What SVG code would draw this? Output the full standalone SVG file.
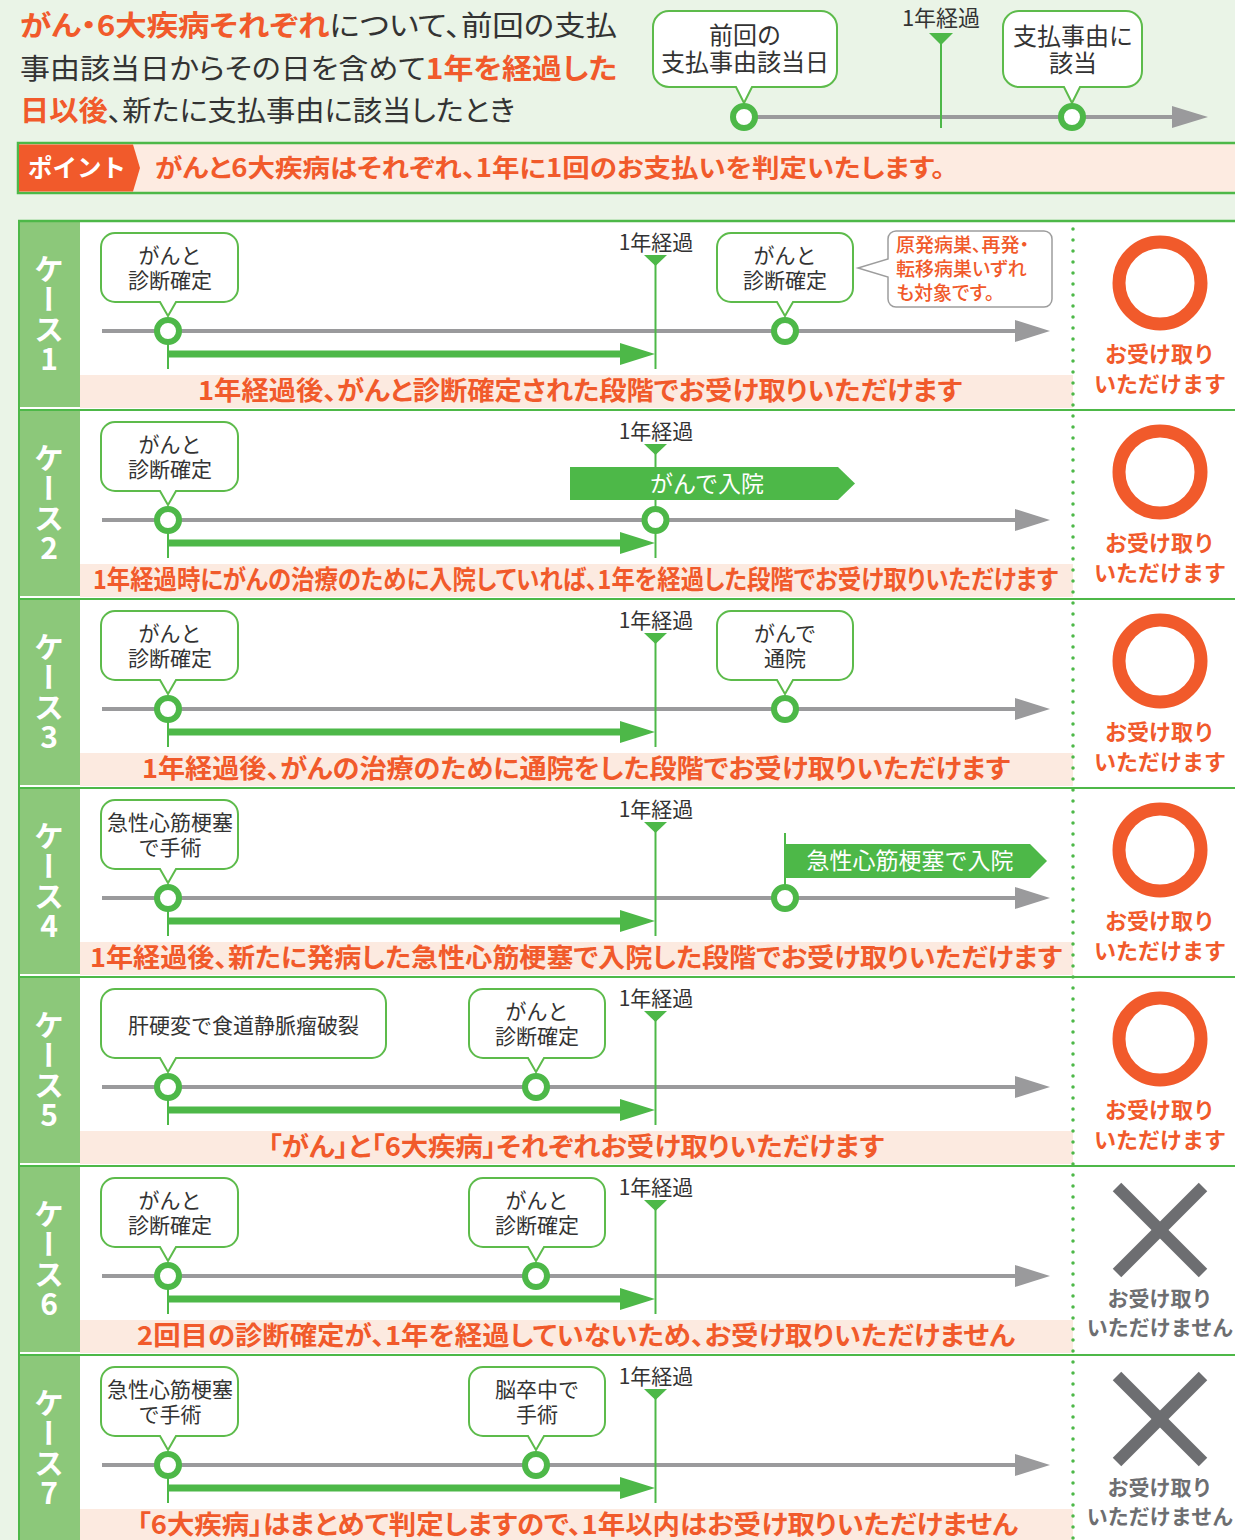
<svg xmlns="http://www.w3.org/2000/svg" xmlns:xlink="http://www.w3.org/1999/xlink" width="1235" height="1540" viewBox="0 0 1235 1540">
<style>
text{font-family:"Noto Sans CJK JP","Noto Sans",sans-serif;}
.p{font-feature-settings:"palt" 1;}
.dk{fill:#333333;}
.or{fill:#F15A2B;}
.bub{fill:#ffffff;stroke:#5DBB4B;stroke-width:2;}
.bt{font-size:21px;fill:#333333;text-anchor:middle;}
.yr{font-size:21px;fill:#333333;text-anchor:middle;}
.node{fill:#ffffff;stroke:#4DB848;stroke-width:6;}
.gray{stroke:#9A9A9C;stroke-width:4;fill:none;}
.gl{stroke:#4DB848;stroke-width:2;fill:none;}
.ga{stroke:#4DB848;stroke-width:7;fill:none;}
.sum{font-size:26px;font-weight:bold;fill:#F15A2B;text-anchor:middle;font-feature-settings:"palt" 1;}
.band{fill:#FCEAE0;}
.lab{font-size:30px;font-weight:bold;fill:#ffffff;writing-mode:vertical-rl;text-orientation:upright;}
.ok{font-size:22px;font-weight:bold;fill:#F15A2B;text-anchor:middle;}
.ng{font-size:21px;font-weight:bold;fill:#6D6E71;text-anchor:middle;}
.ring{fill:none;stroke:#F15A2B;stroke-width:13;}
.x{stroke:#6D6E71;stroke-width:12;}
.ban{fill:#4DB848;}
.bant{font-size:23px;fill:#ffffff;text-anchor:middle;}
</style>
<defs>
<path id="bubA" class="bub" d="M115,12 H224 A14,14 0 0 1 238,26 V67 A14,14 0 0 1 224,81 H176 L168,95 L160,81 H115 A14,14 0 0 1 101,67 V26 A14,14 0 0 1 115,12 Z"/>
<path id="bubB" class="bub" d="M483,12 H591 A14,14 0 0 1 605,26 V67 A14,14 0 0 1 591,81 H544 L536,95 L528,81 H483 A14,14 0 0 1 469,67 V26 A14,14 0 0 1 483,12 Z"/>
<path id="bubC" class="bub" d="M731,12 H839 A14,14 0 0 1 853,26 V67 A14,14 0 0 1 839,81 H793 L785,95 L777,81 H731 A14,14 0 0 1 717,67 V26 A14,14 0 0 1 731,12 Z"/>
<path id="bubW" class="bub" d="M115,12 H372 A14,14 0 0 1 386,26 V67 A14,14 0 0 1 372,81 H176 L168,95 L160,81 H115 A14,14 0 0 1 101,67 V26 A14,14 0 0 1 115,12 Z"/>
<g id="caseBase">
<rect x="80" y="154" width="993" height="33" class="band"/>
<polygon points="644,34 667,34 655.5,45" fill="#4DB848"/>
<text x="656" y="29" class="yr">1年経過</text>
</g>
<g id="tline">
<line x1="102" y1="110" x2="1018" y2="110" class="gray"/>
<polygon points="1015,99 1050,110 1015,121" fill="#9A9A9C"/>
<line x1="655.5" y1="41" x2="655.5" y2="148" class="gl"/>
<line x1="168" y1="110" x2="168" y2="148" class="gl"/>
<line x1="168" y1="133" x2="622" y2="133" class="ga"/>
<polygon points="620,122 655,133 620,144" fill="#4DB848"/>
</g>
<g id="okMark">
<circle cx="1160" cy="62" r="41" class="ring"/>
<text x="1160" y="141" class="ok">お受け取り<tspan x="1160" dy="30">いただけます</tspan></text>
</g>
<g id="ngMark">
<line x1="1117" y1="21" x2="1203" y2="107" class="x"/>
<line x1="1203" y1="21" x2="1117" y2="107" class="x"/>
<text x="1160" y="140" class="ng">お受け取り<tspan x="1160" dy="29">いただけません</tspan></text>
</g>
</defs>

<rect x="0" y="0" width="1235" height="1540" fill="#EAF4E7"/>

<g id="header-text">
<text x="20" y="36" font-size="28.5" class="dk p" textLength="597" lengthAdjust="spacingAndGlyphs"><tspan class="or" font-weight="bold">がん・6大疾病それぞれ</tspan>について、前回の支払</text>
<text x="20" y="79" font-size="28.5" class="dk p" textLength="597" lengthAdjust="spacingAndGlyphs">事由該当日からその日を含めて<tspan class="or" font-weight="bold">1年を経過した</tspan></text>
<text x="20" y="121" font-size="28.5" class="dk p" textLength="495" lengthAdjust="spacingAndGlyphs"><tspan class="or" font-weight="bold">日以後</tspan>、新たに支払事由に該当したとき</text>
</g>

<g id="header-connectors">
<line x1="744" y1="117" x2="1176" y2="117" class="gray"/>
<polygon points="1172,106 1208,117 1172,128" fill="#9A9A9C"/>
<line x1="941" y1="44" x2="941" y2="128" class="gl"/>
</g>
<g id="header-year">
<polygon points="929,33 953,33 941,45" fill="#4DB848"/>
<text x="941" y="26" font-size="22" class="dk" text-anchor="middle">1年経過</text>
</g>
<g id="header-bubble1">
<path class="bub" d="M669,11 H821 A16,16 0 0 1 837,27 V71 A16,16 0 0 1 821,87 H752 L744,103 L736,87 H669 A16,16 0 0 1 653,71 V27 A16,16 0 0 1 669,11 Z"/>
<text x="745" y="44" font-size="24" class="dk" text-anchor="middle">前回の<tspan x="745" dy="27">支払事由該当日</tspan></text>
<circle cx="744" cy="117" r="11" class="node"/>
</g>
<g id="header-bubble2">
<path class="bub" d="M1019,11 H1126 A16,16 0 0 1 1142,27 V71 A16,16 0 0 1 1126,87 H1080 L1072,103 L1064,87 H1019 A16,16 0 0 1 1003,71 V27 A16,16 0 0 1 1019,11 Z"/>
<text x="1073" y="45" font-size="24" class="dk" text-anchor="middle">支払事由に<tspan x="1073" dy="27">該当</tspan></text>
<circle cx="1072" cy="117" r="11" class="node"/>
</g>

<g id="point-bar">
<rect x="18" y="143" width="1230" height="50" fill="#FDEBE1" stroke="#4DB848" stroke-width="2.5"/>
<polygon points="19,144.5 133,144.5 140,168 133,191.5 19,191.5" fill="#F15A2B"/>
<text x="77" y="177" font-size="24.5" font-weight="bold" fill="#ffffff" text-anchor="middle">ポイント</text>
<text x="155" y="177" font-size="25" font-weight="bold" class="or p" textLength="790" lengthAdjust="spacingAndGlyphs">がんと6大疾病はそれぞれ、1年に1回のお支払いを判定いたします。</text>
</g>

<g id="frame">
<rect x="80" y="221" width="1160" height="1330" fill="#ffffff"/>
<rect x="19" y="221" width="61" height="1330" fill="#8CC87A"/>
<line x1="19" y1="221" x2="19" y2="1540" stroke="#4DB848" stroke-width="2"/>
<line x1="18" y1="221" x2="1235" y2="221" stroke="#4DB848" stroke-width="2.5"/>
<g stroke="#4DB848" stroke-width="2">
<line x1="19" y1="410" x2="1235" y2="410"/>
<line x1="19" y1="599" x2="1235" y2="599"/>
<line x1="19" y1="788" x2="1235" y2="788"/>
<line x1="19" y1="977" x2="1235" y2="977"/>
<line x1="19" y1="1166" x2="1235" y2="1166"/>
<line x1="19" y1="1355" x2="1235" y2="1355"/>
</g>
<g stroke="#ffffff" stroke-width="2">
<line x1="20" y1="408" x2="80" y2="408"/>
<line x1="20" y1="597" x2="80" y2="597"/>
<line x1="20" y1="786" x2="80" y2="786"/>
<line x1="20" y1="975" x2="80" y2="975"/>
<line x1="20" y1="1164" x2="80" y2="1164"/>
<line x1="20" y1="1353" x2="80" y2="1353"/>
</g>
</g>

<g id="case-bases">
<use xlink:href="#caseBase" transform="translate(0,221)"/>
<use xlink:href="#caseBase" transform="translate(0,410)"/>
<use xlink:href="#caseBase" transform="translate(0,599)"/>
<use xlink:href="#caseBase" transform="translate(0,788)"/>
<use xlink:href="#caseBase" transform="translate(0,977)"/>
<use xlink:href="#caseBase" transform="translate(0,1166)"/>
<use xlink:href="#caseBase" transform="translate(0,1355)"/>
<line x1="1073" y1="229" x2="1073" y2="1540" stroke="#4DB848" stroke-width="3.5" stroke-linecap="round" stroke-dasharray="0 11"/>
</g>

<g id="connectors">
<use xlink:href="#tline" transform="translate(0,221)"/>
<use xlink:href="#tline" transform="translate(0,410)"/>
<use xlink:href="#tline" transform="translate(0,599)"/>
<use xlink:href="#tline" transform="translate(0,788)"/>
<use xlink:href="#tline" transform="translate(0,977)"/>
<use xlink:href="#tline" transform="translate(0,1166)"/>
<use xlink:href="#tline" transform="translate(0,1355)"/>
</g>

<g id="case1" transform="translate(0,221)">
<g id="case1-label"><text x="49" y="33" class="lab">ケース1</text></g>
<g id="case1-n1"><use xlink:href="#bubA"/><text x="170" y="42" class="bt">がんと<tspan x="170" dy="25">診断確定</tspan></text><circle cx="168" cy="110" r="11" class="node"/></g>
<g id="case1-n2"><use xlink:href="#bubC"/><text x="785" y="42" class="bt">がんと<tspan x="785" dy="25">診断確定</tspan></text><circle cx="785" cy="110" r="11" class="node"/></g>
<g id="case1-note">
<path d="M896,10 H1044 A8,8 0 0 1 1052,18 V78 A8,8 0 0 1 1044,86 H896 A8,8 0 0 1 888,78 V56 L858,47 L888,38 V18 A8,8 0 0 1 896,10 Z" fill="#ffffff" stroke="#9D9D9D" stroke-width="1.5"/>
<text x="896" y="31" font-size="19" font-weight="500" class="or p">原発病巣、再発・<tspan x="896" dy="24">転移病巣いずれ</tspan><tspan x="896" dy="24">も対象です。</tspan></text>
</g>
<text x="580" y="179" class="sum" textLength="764" lengthAdjust="spacingAndGlyphs">1年経過後、がんと診断確定された段階でお受け取りいただけます</text>
<g id="case1-result"><use xlink:href="#okMark"/></g>
</g>

<g id="case2" transform="translate(0,410)">
<g id="case2-label"><text x="49" y="33" class="lab">ケース2</text></g>
<g id="case2-n1"><use xlink:href="#bubA"/><text x="170" y="42" class="bt">がんと<tspan x="170" dy="25">診断確定</tspan></text><circle cx="168" cy="110" r="11" class="node"/></g>
<g id="case2-banner">
<polygon points="570,57 838,57 855,73.5 838,90 570,90" class="ban"/>
<text x="707" y="82" class="bant">がんで入院</text>
</g>
<g id="case2-n2"><circle cx="655.5" cy="110" r="11" class="node"/></g>
<text x="575.5" y="179" class="sum" textLength="965" lengthAdjust="spacingAndGlyphs">1年経過時にがんの治療のために入院していれば、1年を経過した段階でお受け取りいただけます</text>
<g id="case2-result"><use xlink:href="#okMark"/></g>
</g>

<g id="case3" transform="translate(0,599)">
<g id="case3-label"><text x="49" y="33" class="lab">ケース3</text></g>
<g id="case3-n1"><use xlink:href="#bubA"/><text x="170" y="42" class="bt">がんと<tspan x="170" dy="25">診断確定</tspan></text><circle cx="168" cy="110" r="11" class="node"/></g>
<g id="case3-n2"><use xlink:href="#bubC"/><text x="785" y="42" class="bt">がんで<tspan x="785" dy="25">通院</tspan></text><circle cx="785" cy="110" r="11" class="node"/></g>
<text x="576" y="179" class="sum" textLength="868" lengthAdjust="spacingAndGlyphs">1年経過後、がんの治療のために通院をした段階でお受け取りいただけます</text>
<g id="case3-result"><use xlink:href="#okMark"/></g>
</g>

<g id="case4" transform="translate(0,788)">
<g id="case4-label"><text x="49" y="33" class="lab">ケース4</text></g>
<g id="case4-n1"><use xlink:href="#bubA"/><text x="170" y="42" class="bt">急性心筋梗塞<tspan x="170" dy="25">で手術</tspan></text><circle cx="168" cy="110" r="11" class="node"/></g>
<g id="case4-banner">
<line x1="785" y1="45" x2="785" y2="100" class="gl"/>
<polygon points="785,56 1030,56 1047,73 1030,90 785,90" class="ban"/>
<text x="910" y="81" class="bant">急性心筋梗塞で入院</text>
</g>
<g id="case4-n2"><circle cx="785" cy="110" r="11" class="node"/></g>
<text x="576" y="179" class="sum" textLength="972" lengthAdjust="spacingAndGlyphs">1年経過後、新たに発病した急性心筋梗塞で入院した段階でお受け取りいただけます</text>
<g id="case4-result"><use xlink:href="#okMark"/></g>
</g>

<g id="case5" transform="translate(0,977)">
<g id="case5-label"><text x="49" y="33" class="lab">ケース5</text></g>
<g id="case5-n1"><use xlink:href="#bubW"/><text x="243.5" y="56" class="bt">肝硬変で食道静脈瘤破裂</text><circle cx="168" cy="110" r="11" class="node"/></g>
<g id="case5-n2"><use xlink:href="#bubB"/><text x="537" y="42" class="bt">がんと<tspan x="537" dy="25">診断確定</tspan></text><circle cx="536" cy="110" r="11" class="node"/></g>
<text x="576" y="179" class="sum" textLength="616" lengthAdjust="spacingAndGlyphs">「がん」と「6大疾病」それぞれお受け取りいただけます</text>
<g id="case5-result"><use xlink:href="#okMark"/></g>
</g>

<g id="case6" transform="translate(0,1166)">
<g id="case6-label"><text x="49" y="33" class="lab">ケース6</text></g>
<g id="case6-n1"><use xlink:href="#bubA"/><text x="170" y="42" class="bt">がんと<tspan x="170" dy="25">診断確定</tspan></text><circle cx="168" cy="110" r="11" class="node"/></g>
<g id="case6-n2"><use xlink:href="#bubB"/><text x="537" y="42" class="bt">がんと<tspan x="537" dy="25">診断確定</tspan></text><circle cx="536" cy="110" r="11" class="node"/></g>
<text x="576" y="179" class="sum" textLength="878" lengthAdjust="spacingAndGlyphs">2回目の診断確定が、1年を経過していないため、お受け取りいただけません</text>
<g id="case6-result"><use xlink:href="#ngMark"/></g>
</g>

<g id="case7" transform="translate(0,1355)">
<g id="case7-label"><text x="49" y="33" class="lab">ケース7</text></g>
<g id="case7-n1"><use xlink:href="#bubA"/><text x="170" y="42" class="bt">急性心筋梗塞<tspan x="170" dy="25">で手術</tspan></text><circle cx="168" cy="110" r="11" class="node"/></g>
<g id="case7-n2"><use xlink:href="#bubB"/><text x="537" y="42" class="bt">脳卒中で<tspan x="537" dy="25">手術</tspan></text><circle cx="536" cy="110" r="11" class="node"/></g>
<text x="577.5" y="179" class="sum" textLength="881" lengthAdjust="spacingAndGlyphs">「6大疾病」はまとめて判定しますので、1年以内はお受け取りいただけません</text>
<g id="case7-result"><use xlink:href="#ngMark"/></g>
</g>
</svg>
